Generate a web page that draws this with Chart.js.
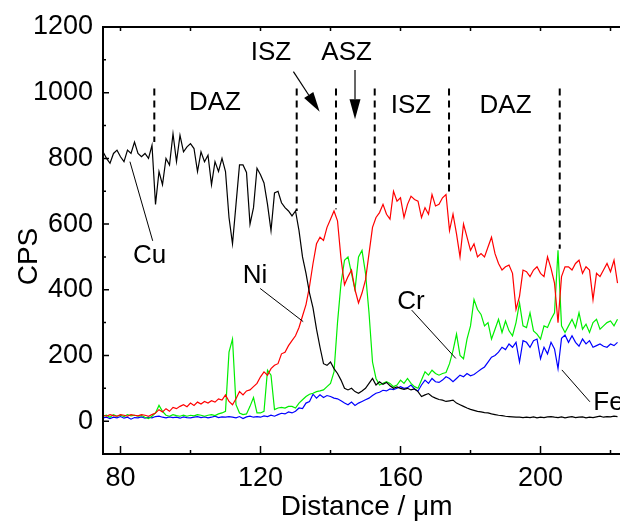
<!DOCTYPE html>
<html>
<head>
<meta charset="utf-8">
<script src="https://cdn.jsdelivr.net/npm/chart.js@4.4.1/dist/chart.umd.min.js"></script>
<style>
  html, body { margin: 0; padding: 0; background: #fff; overflow: hidden; }
  #wrap { width: 620px; height: 521px; }
</style>
</head>
<body>
<div id="wrap"><canvas id="chart" width="620" height="521"></canvas></div>
<script>
// counts per second, one reading per micrometre from 75 to 222 um
const cu = [
  820, 800, 785, 815, 825, 805, 790, 825, 815, 850,
  815, 805, 815, 800, 840, 660, 760, 720, 800, 780,
  875, 790, 870, 820, 835, 845, 830, 760, 820, 790,
  810, 720, 790, 760, 800, 760, 620, 540, 660, 780,
  780, 757, 600, 650, 770, 750, 725, 660, 580, 695,
  700, 665, 650, 640, 625, 640, 580, 500, 450, 390,
  345, 280, 225, 175, 170, 180, 160, 145, 125, 100,
  95, 100, 90, 85, 92, 100, 115, 130, 110, 120,
  112, 118, 108, 100, 104, 100, 97, 100, 95, 98,
  90, 75, 80, 84, 75, 70, 66, 64, 60, 62,
  64, 55, 50, 45, 40, 36, 33, 30, 28, 26,
  25, 22, 20, 18, 17, 15, 14, 13, 12, 12,
  11, 12, 11, 13, 10, 12, 11, 13, 14, 12,
  11, 13, 10, 12, 14, 11, 12, 13, 10, 12,
  11, 13, 15, 12, 14, 13, 15, 14
];
const ni = [
  18, 15, 20, 17, 15, 20, 18, 15, 20, 18,
  16, 20, 18, 15, 20, 25, 35, 28, 38, 30,
  42, 38, 45, 50, 44, 55, 48, 58, 52, 60,
  55, 62, 58, 68, 64, 80, 60, 50, 68, 90,
  80, 92, 95, 105, 115, 135, 150, 140, 160, 170,
  175, 205, 210, 230, 245, 260, 285, 320, 355, 410,
  480, 540, 560, 550, 590, 615, 640, 610, 495, 415,
  440, 460, 400, 360, 390, 430, 510, 590, 620, 635,
  660, 630, 615, 700, 670, 680, 620, 660, 685, 675,
  670, 620, 650, 630, 690, 655, 660, 680, 690, 580,
  630, 570, 500, 600, 560, 520, 540, 500, 510, 500,
  530, 560, 510, 480, 460, 470, 475, 450, 340, 380,
  460, 455, 440, 460, 470, 450, 440, 500, 465, 420,
  300, 440, 470, 470, 460, 480, 490, 450, 470, 460,
  370, 450, 440, 460, 480, 455, 490, 420
];
const cr = [
  15, 18, 12, 20, 15, 18, 14, 20, 16, 18,
  15, 17, 12, 8, 15, 25, 48, 30, 18, 15,
  20, 17, 15, 18, 15, 18, 16, 20, 18, 15,
  18, 20, 17, 22, 25, 30, 210, 250, 50, 25,
  20, 22, 45, 72, 25, 25, 30, 155, 140, 35,
  40, 42, 40, 45, 45, 40, 55, 65, 75, 82,
  85, 90, 92, 95, 105, 115, 150, 300, 420, 490,
  500, 450, 400, 500, 520, 450, 330, 180, 130, 110,
  115, 120, 115, 105, 110, 125, 115, 130, 115, 105,
  100, 125, 150, 140, 155, 145, 140, 145, 148, 175,
  215, 265, 200, 190, 250, 290, 370, 340, 325, 290,
  300, 250, 280, 310, 270, 305, 275, 260, 300, 360,
  290, 285, 330, 275, 265, 250, 290, 285, 310, 330,
  520, 290, 270, 290, 310, 285, 330, 280, 295, 270,
  300, 310, 280, 290, 300, 305, 290, 310
];
const fe = [
  10, 12, 8, 12, 10, 14, 9, 12, 6, 11,
  10, 13, 9, 12, 10, 14, 15, 12, 10, 13,
  11, 12, 9, 13, 11, 10, 12, 14, 11, 13,
  10, 12, 15, 11, 13, 12, 14, 12, 10, 14,
  8, 13, 15, 12, 14, 12, 16, 14, 18, 15,
  20, 24, 22, 28, 25, 30, 40, 38, 55, 60,
  82, 70, 80, 72, 78, 75, 70, 68, 62, 55,
  50, 58, 48, 55, 60, 65, 70, 78, 85, 88,
  94, 92, 98, 96, 100, 105, 100, 102, 110, 98,
  92, 110, 125, 115, 130, 120, 118, 125, 135, 130,
  120, 130, 140, 135, 145, 138, 142, 150, 158, 165,
  180, 195, 200, 210, 225, 218, 235, 225, 240, 180,
  245, 240, 225, 245, 250, 190, 225, 205, 240, 220,
  160, 252, 262, 240, 260, 240, 228, 250, 235, 245,
  225, 230, 235, 228, 225, 235, 230, 240
];
const distance = cu.map((v, i) => 75 + i);

const xLabelTicks = [80, 120, 160, 200];
const xMinorTicks = [100, 140, 180, 220];
const yLabelTicks = [0, 200, 400, 600, 800, 1000, 1200];
const yMinorTicks = [100, 300, 500, 700, 900, 1100];

// zone boundaries (dashed) and where each one stops
const zoneBounds = [89.66, 130.34, 141.57, 152.63, 173.86, 205.49];
const zoneBoundEnds = [850, 640, 645, 650, 695, 525];

const FONT = "'Liberation Sans', Arial, sans-serif";

const labels = [
  { text: "DAZ", x: 107, y: 947 },
  { text: "ISZ", x: 123, y: 1099 },
  { text: "ASZ", x: 144.6, y: 1099 },
  { text: "ISZ", x: 163, y: 938 },
  { text: "DAZ", x: 190, y: 938 },
  { text: "Cu", x: 88.3, y: 481 },
  { text: "Ni", x: 118.4, y: 420 },
  { text: "Cr", x: 163, y: 341 },
  { text: "Fe", x: 215.1, y: 34, align: "left" }
];
const leaders = [
  [82.7, 790, 89.2, 549],
  [119.9, 404, 132.2, 303],
  [163.2, 338, 175.8, 191],
  [206.1, 156, 214.1, 59]
];
const arrows = [
  [129.4, 1064, 136.9, 942],
  [147, 1069, 147, 919]
];

function series(label, values, color) {
  return {
    label: label,
    data: values.map((v, i) => ({ x: distance[i], y: v })),
    borderColor: color,
    borderWidth: 1.2,
    pointRadius: 0,
    tension: 0,
    fill: false
  };
}

const frame = {
  id: "frame",
  afterDatasetsDraw(chart) {
    const { ctx, chartArea: a, scales } = chart;
    const px = v => scales.x.getPixelForValue(v);
    const py = v => scales.y.getPixelForValue(v);
    ctx.save();
    ctx.strokeStyle = "#000";
    ctx.fillStyle = "#000";

    // dashed zone boundaries
    ctx.lineWidth = 2;
    ctx.setLineDash([7, 5]);
    zoneBounds.forEach((b, i) => {
      ctx.beginPath();
      ctx.moveTo(px(b), py(1013));
      ctx.lineTo(px(b), py(zoneBoundEnds[i]));
      ctx.stroke();
    });
    ctx.setLineDash([]);

    // leader lines
    ctx.lineWidth = 1;
    leaders.forEach(l => {
      ctx.beginPath();
      ctx.moveTo(px(l[0]), py(l[1]));
      ctx.lineTo(px(l[2]), py(l[3]));
      ctx.stroke();
    });

    // arrows
    arrows.forEach(r => {
      const x0 = px(r[0]), y0 = py(r[1]), x1 = px(r[2]), y1 = py(r[3]);
      const ang = Math.atan2(y1 - y0, x1 - x0);
      const len = 20, hw = 5.5;
      const bx = x1 - len * Math.cos(ang), by = y1 - len * Math.sin(ang);
      ctx.lineWidth = 1.2;
      ctx.beginPath();
      ctx.moveTo(x0, y0);
      ctx.lineTo(bx, by);
      ctx.stroke();
      ctx.beginPath();
      ctx.moveTo(x1, y1);
      ctx.lineTo(bx + hw * Math.sin(ang), by - hw * Math.cos(ang));
      ctx.lineTo(bx - hw * Math.sin(ang), by + hw * Math.cos(ang));
      ctx.closePath();
      ctx.fill();
    });

    // text labels
    ctx.font = "26px " + FONT;
    ctx.textBaseline = "alphabetic";
    labels.forEach(t => {
      ctx.textAlign = t.align || "center";
      ctx.fillText(t.text, px(t.x), py(t.y));
    });

    // axes frame
    ctx.lineWidth = 2;
    ctx.beginPath();
    ctx.moveTo(a.right + 2, a.top);
    ctx.lineTo(a.left, a.top);
    ctx.lineTo(a.left, a.bottom);
    ctx.lineTo(a.right + 2, a.bottom);
    ctx.stroke();

    // inward ticks
    ctx.lineWidth = 1.5;
    ctx.beginPath();
    xLabelTicks.forEach(v => {
      ctx.moveTo(px(v), a.bottom); ctx.lineTo(px(v), a.bottom - 8);
      ctx.moveTo(px(v), a.top); ctx.lineTo(px(v), a.top + 4);
    });
    xMinorTicks.forEach(v => {
      ctx.moveTo(px(v), a.bottom); ctx.lineTo(px(v), a.bottom - 4);
      ctx.moveTo(px(v), a.top); ctx.lineTo(px(v), a.top + 4);
    });
    yLabelTicks.forEach(v => {
      ctx.moveTo(a.left, py(v)); ctx.lineTo(a.left + 6, py(v));
    });
    yMinorTicks.forEach(v => {
      ctx.moveTo(a.left, py(v)); ctx.lineTo(a.left + 3, py(v));
    });
    ctx.stroke();

    // axis titles
    ctx.font = "28px " + FONT;
    ctx.textAlign = "center";
    ctx.fillText("Distance / \u03bcm", 366.7, 515);
    ctx.translate(37, 256.5);
    ctx.rotate(-Math.PI / 2);
    ctx.fillText("CPS", 0, 0);
    ctx.restore();
  }
};

new Chart(document.getElementById("chart"), {
  type: "line",
  data: {
    datasets: [
      series("Cu", cu, "#000000"),
      series("Ni", ni, "#ff0000"),
      series("Cr", cr, "#00ee00"),
      series("Fe", fe, "#0000ff")
    ]
  },
  options: {
    responsive: false,
    animation: false,
    layout: { padding: { top: 27, left: 0, right: 0, bottom: 0 } },
    plugins: {
      legend: { display: false },
      tooltip: { enabled: false }
    },
    scales: {
      x: {
        type: "linear",
        min: 75,
        max: 222.71,
        grid: { display: false, drawTicks: false },
        border: { display: false },
        ticks: {
          color: "#000",
          font: { family: FONT, size: 27 },
          padding: 8,
          maxRotation: 0,
          autoSkip: false,
          callback: v => String(v)
        },
        afterBuildTicks: s => { s.ticks = xLabelTicks.map(v => ({ value: v })); },
        afterFit: s => { s.height = 67; }
      },
      y: {
        type: "linear",
        min: -100,
        max: 1200,
        grid: { display: false, drawTicks: false },
        border: { display: false },
        ticks: {
          color: "#000",
          font: { family: FONT, size: 27 },
          padding: 10,
          autoSkip: false,
          callback: v => String(v)
        },
        afterBuildTicks: s => { s.ticks = yLabelTicks.map(v => ({ value: v })); },
        afterFit: s => { s.width = 103; }
      }
    }
  },
  plugins: [frame]
});
</script>
</body>
</html>
